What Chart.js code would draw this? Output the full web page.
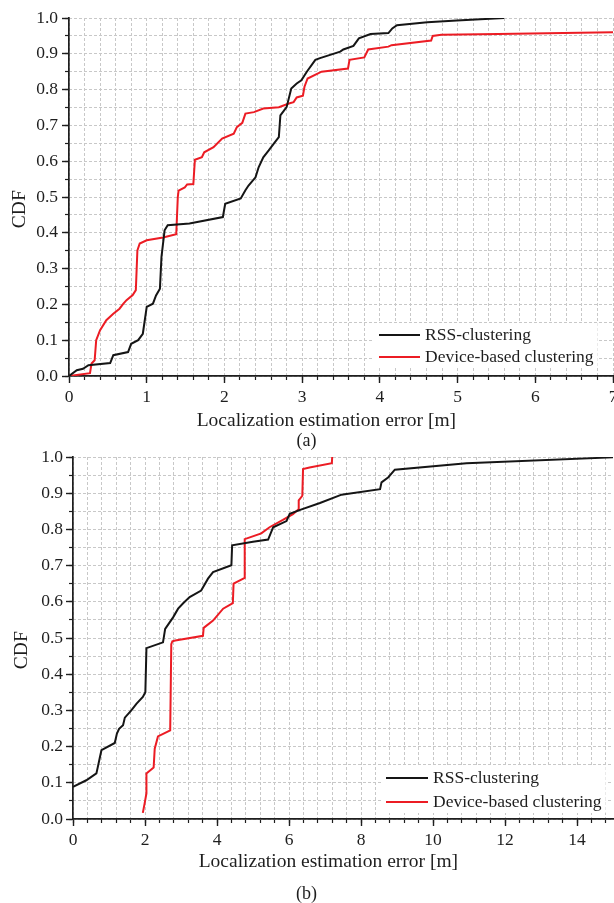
<!DOCTYPE html>
<html>
<head>
<meta charset="utf-8">
<title>CDF of localization error</title>
<script src="https://cdn.jsdelivr.net/npm/chart.js@4.4.0/dist/chart.umd.min.js"></script>
<style>
  html, body { margin: 0; padding: 0; background: #fff; }
  #wrap { position: relative; width: 614px; height: 903px; }
  canvas { position: absolute; left: 0; }
  #chartA { top: 0; }
  #chartB { top: 450px; }
</style>
</head>
<body>
<div id="wrap">
  <canvas id="chartA" width="614" height="450"></canvas>
  <canvas id="chartB" width="614" height="453"></canvas>
</div>
<script>
// series labels and axis text
const seriesLabels = ['RSS-clustering', 'Device-based clustering'];
const xTitle = 'Localization estimation error [m]';
const yTitle = 'CDF';

// (a) values
const rssAX = [0, 0.1, 0.18, 0.25, 0.53, 0.57, 0.76, 0.8, 0.89, 0.95, 1.0, 1.08, 1.12, 1.17, 1.19, 1.23, 1.27, 1.55, 1.98, 2.01, 2.21, 2.27, 2.31, 2.40, 2.44, 2.50, 2.57, 2.65, 2.70, 2.72, 2.80, 2.86, 2.93, 2.99, 3.06, 3.17, 3.23, 3.49, 3.53, 3.66, 3.73, 3.88, 4.11, 4.16, 4.22, 4.61, 4.99, 5.60];
const rssAY = [0, 0.016, 0.02, 0.03, 0.036, 0.058, 0.067, 0.09, 0.1, 0.118, 0.193, 0.202, 0.225, 0.244, 0.333, 0.407, 0.421, 0.426, 0.444, 0.481, 0.496, 0.519, 0.532, 0.555, 0.583, 0.611, 0.63, 0.653, 0.667, 0.728, 0.751, 0.803, 0.817, 0.826, 0.85, 0.883, 0.888, 0.906, 0.912, 0.922, 0.943, 0.955, 0.958, 0.971, 0.98, 0.988, 0.993, 1.0];
const devAX = [0, 0.27, 0.29, 0.33, 0.35, 0.40, 0.48, 0.57, 0.65, 0.70, 0.74, 0.82, 0.86, 0.88, 0.91, 1.0, 1.21, 1.38, 1.40, 1.41, 1.49, 1.52, 1.60, 1.62, 1.71, 1.74, 1.86, 1.97, 2.12, 2.16, 2.23, 2.27, 2.38, 2.50, 2.70, 2.83, 2.89, 2.93, 3.01, 3.03, 3.07, 3.25, 3.59, 3.61, 3.80, 3.85, 4.11, 4.15, 4.66, 4.68, 4.79, 5.52, 7.0];
const devAY = [0, 0.008, 0.035, 0.044, 0.1, 0.128, 0.156, 0.174, 0.188, 0.202, 0.212, 0.226, 0.24, 0.351, 0.37, 0.379, 0.387, 0.396, 0.5, 0.518, 0.527, 0.535, 0.536, 0.604, 0.611, 0.625, 0.639, 0.663, 0.677, 0.695, 0.707, 0.733, 0.737, 0.747, 0.751, 0.761, 0.765, 0.778, 0.783, 0.808, 0.831, 0.85, 0.859, 0.883, 0.89, 0.912, 0.92, 0.924, 0.937, 0.95, 0.953, 0.955, 0.96];

// (b) values
const rssBX = [0, 0.37, 0.65, 0.69, 0.74, 0.79, 1.16, 1.22, 1.28, 1.39, 1.44, 1.62, 1.76, 1.94, 2.01, 2.04, 2.5, 2.56, 2.78, 2.92, 3.06, 3.24, 3.56, 3.75, 3.89, 4.40, 4.42, 5.0, 5.42, 5.56, 5.93, 6.02, 6.31, 6.86, 7.46, 8.53, 8.57, 8.76, 8.94, 10.93, 15];
const rssBY = [0.089, 0.107, 0.126, 0.144, 0.167, 0.19, 0.21, 0.236, 0.249, 0.259, 0.28, 0.3, 0.318, 0.337, 0.35, 0.472, 0.488, 0.525, 0.557, 0.581, 0.596, 0.613, 0.631, 0.664, 0.682, 0.701, 0.756, 0.766, 0.772, 0.806, 0.823, 0.843, 0.854, 0.873, 0.896, 0.911, 0.93, 0.944, 0.965, 0.983, 0.999];
const devBX = [1.94, 1.99, 2.04, 2.04, 2.24, 2.27, 2.36, 2.70, 2.73, 2.76, 2.84, 3.61, 3.63, 3.89, 4.17, 4.44, 4.46, 4.77, 4.77, 5.23, 5.46, 5.83, 6.11, 6.25, 6.27, 6.37, 6.39, 6.57, 7.19, 7.2];
const devBY = [0.017, 0.043, 0.071, 0.126, 0.142, 0.194, 0.228, 0.245, 0.483, 0.491, 0.493, 0.506, 0.528, 0.548, 0.581, 0.596, 0.65, 0.666, 0.773, 0.789, 0.806, 0.826, 0.842, 0.854, 0.88, 0.893, 0.967, 0.971, 0.983, 1.0];

const FONT = '"Liberation Serif", "Times New Roman", serif';
const INK = '#1e1e1e';
const GRID = '#c8c8c8';
const colors = ['#151515', '#ec1c24'];

// legend drawn inside the plot, lower right, on a white box
const innerLegend = {
    id: 'innerLegend',
    afterDraw(chart, args, opts) {
        const { ctx, chartArea } = chart;
        const x0 = chartArea.right - opts.right;
        const y0 = chartArea.bottom - opts.bottom;
        ctx.save();
        ctx.font = '17.5px ' + FONT;
        ctx.textBaseline = 'middle';
        const n = chart.data.datasets.length;
        let textW = 0;
        chart.data.datasets.forEach(ds => { textW = Math.max(textW, ctx.measureText(ds.label).width); });
        ctx.fillStyle = '#fff';
        ctx.fillRect(x0 - 5, y0 - 12, opts.lineLen + 6 + textW + 8, (n - 1) * opts.rowGap + 23);
        chart.data.datasets.forEach((ds, i) => {
            const y = y0 + i * opts.rowGap;
            ctx.strokeStyle = ds.borderColor;
            ctx.lineWidth = 2;
            ctx.beginPath();
            ctx.moveTo(x0, y);
            ctx.lineTo(x0 + opts.lineLen, y);
            ctx.stroke();
            ctx.fillStyle = INK;
            ctx.fillText(ds.label, x0 + opts.lineLen + 5, y);
        });
        ctx.restore();
    }
};

function toPoints(xs, ys) {
    return xs.map((x, i) => ({ x: x, y: ys[i] }));
}

function buildChart(canvasId, p) {
    const tickFont = { family: FONT, size: 17.5 };
    const titleFont = { family: FONT, size: 19.5, lineHeight: 1 };
    return new Chart(document.getElementById(canvasId), {
        type: 'scatter',
        data: {
            datasets: [
                { label: seriesLabels[0], data: toPoints(p.rssX, p.rssY) },
                { label: seriesLabels[1], data: toPoints(p.devX, p.devY) }
            ].map((ds, i) => Object.assign(ds, {
                borderColor: colors[i],
                backgroundColor: colors[i],
                borderWidth: 2,
                showLine: true,
                pointRadius: 0,
                tension: 0
            }))
        },
        options: {
            responsive: false,
            animation: false,
            events: [],
            layout: { padding: { top: p.padTop, right: 1, bottom: 0, left: 0 } },
            plugins: {
                legend: { display: false },
                tooltip: { enabled: false },
                title: {
                    display: true,
                    position: 'bottom',
                    text: p.caption,
                    color: INK,
                    font: { family: FONT, size: 18, weight: 'normal', lineHeight: 1 },
                    padding: { top: 0, bottom: 0 }
                },
                innerLegend: p.legend
            },
            scales: {
                x: {
                    type: 'linear',
                    position: 'bottom',
                    min: 0,
                    max: p.xMax,
                    weight: 1,
                    afterFit: s => { s.height = p.xAxisH; s.paddingLeft = 0; s.paddingRight = 0; },
                    ticks: { stepSize: p.xStep, includeBounds: false, autoSkip: false, maxRotation: 0, color: INK, padding: 3.5, font: tickFont },
                    grid: { drawOnChartArea: false, tickLength: 7, tickColor: INK, tickWidth: 1.4 },
                    border: { color: INK, width: 1.7 },
                    title: {
                        display: true,
                        text: xTitle + '      ',
                        color: INK,
                        font: titleFont,
                        padding: { top: 0, bottom: p.xTitlePad }
                    }
                },
                xMinor: {
                    type: 'linear',
                    position: 'bottom',
                    min: 0,
                    max: p.xMax,
                    weight: 0,
                    afterFit: s => { s.height = 0; s.paddingLeft = 0; s.paddingRight = 0; },
                    ticks: { stepSize: p.xMinorStep, includeBounds: false, display: false },
                    grid: { color: GRID, lineWidth: 1, tickLength: 4, tickColor: INK, tickWidth: 1.2 },
                    border: { display: false, dash: [3, 2] }
                },
                y: {
                    type: 'linear',
                    position: 'left',
                    min: 0,
                    max: 1,
                    weight: 1,
                    afterFit: s => { s.width = p.yAxisW; s.paddingTop = 0; s.paddingBottom = 0; },
                    ticks: { stepSize: 0.1, color: INK, padding: p.yTickPad, font: tickFont, callback: v => Number(v).toFixed(1) },
                    grid: { drawOnChartArea: false, tickLength: 7, tickColor: INK, tickWidth: 1.4 },
                    border: { color: INK, width: 1.7 },
                    title: { display: true, text: yTitle + '     ', color: INK, font: titleFont, padding: p.yTitlePad }
                },
                yMinor: {
                    type: 'linear',
                    position: 'left',
                    min: 0,
                    max: 1,
                    weight: 0,
                    afterFit: s => { s.width = 0; s.paddingTop = 0; s.paddingBottom = 0; },
                    ticks: { stepSize: 0.05, display: false },
                    grid: { color: GRID, lineWidth: 1, tickLength: 4, tickColor: INK, tickWidth: 1.2 },
                    border: { display: false, dash: [3, 2] }
                }
            }
        },
        plugins: [innerLegend]
    });
}

buildChart('chartA', {
    rssX: rssAX, rssY: rssAY, devX: devAX, devY: devAY,
    caption: '(a)',
    padTop: 18, xMax: 7, xStep: 1, xMinorStep: 0.2,
    xAxisH: 56, xTitlePad: 1, yAxisW: 69, yTickPad: 4, yTitlePad: 10,
    legend: { right: 234, bottom: 41, rowGap: 22, lineLen: 41 }
});

buildChart('chartB', {
    rssX: rssBX, rssY: rssBY, devX: devBX, devY: devBY,
    caption: '(b)',
    padTop: 7, xMax: 15, xStep: 2, xMinorStep: 0.4,
    xAxisH: 66, xTitlePad: 13, yAxisW: 73, yTickPad: 3, yTitlePad: 12,
    legend: { right: 227, bottom: 41, rowGap: 24, lineLen: 42 }
});
</script>
</body>
</html>
